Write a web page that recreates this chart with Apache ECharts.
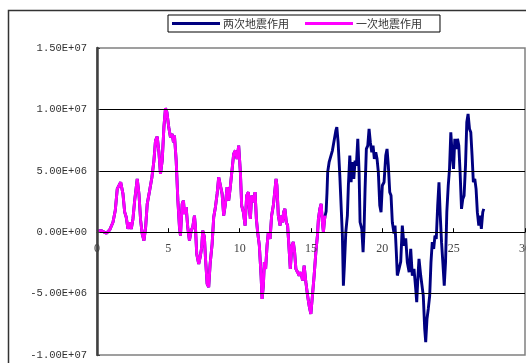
<!DOCTYPE html>
<html>
<head>
<meta charset="utf-8">
<script src="https://cdn.jsdelivr.net/npm/echarts@6/dist/echarts.min.js"></script>
<style>
  html, body { margin: 0; padding: 0; background: #fff; }
  #chart { width: 526px; height: 363px; }
</style>
</head>
<body>
<div id="chart"></div>
<script>
// Time history of base response (values in units of 1e6)
const UNIT = 1e6;

// First earthquake record: time (s)
const timeFirst = [
  0, 0.3, 0.66, 0.89, 1.12, 1.28, 1.42, 1.66, 1.82, 1.94, 2.05, 2.17, 2.29, 2.4, 2.52, 2.64, 2.82, 2.94,
  3.06, 3.17, 3.29, 3.41, 3.52, 3.69, 3.85, 3.99, 4.1, 4.22, 4.34, 4.45, 4.57, 4.69, 4.8, 4.9,
  5.03, 5.15, 5.27, 5.36, 5.43, 5.55, 5.67, 5.78, 5.85, 5.97, 6.06, 6.13, 6.25, 6.36, 6.48, 6.6,
  6.71, 6.83, 6.9, 6.99, 7.13, 7.23, 7.34, 7.41, 7.53, 7.6, 7.72, 7.83, 7.93, 8.07, 8.18, 8.3,
  8.42, 8.53, 8.65, 8.77, 8.88, 9.0, 9.12, 9.23, 9.33, 9.44, 9.58, 9.7, 9.82, 9.93, 10.05, 10.14,
  10.26, 10.38, 10.49, 10.61, 10.68, 10.75, 10.84, 10.96, 11.08, 11.17, 11.26, 11.38, 11.5, 11.57,
  11.66, 11.73, 11.82, 11.92, 12.01, 12.13, 12.24, 12.36, 12.48, 12.55, 12.61, 12.71, 12.83, 12.9,
  13.01, 13.08, 13.17, 13.27, 13.36, 13.45, 13.55, 13.66, 13.76, 13.85, 13.94, 14.06, 14.17, 14.29,
  14.41, 14.52, 14.64, 14.76, 14.87, 14.99, 15.1, 15.22, 15.34, 15.45, 15.52, 15.62, 15.71, 15.8,
  15.87, 15.94, 15.99
];
// First earthquake record: response (x1e6)
const valueFirst = [
  0.08, 0.13, -0.08, 0.19, 0.81, 1.76, 3.53, 4.07, 3.12, 1.63, 1.22, 0.27, 0.81, 0.27, 1.08, 2.57, 4.34, 3.12,
  0.94, -0.14, -0.68, 0.41, 2.3, 3.39, 4.48, 5.83, 7.46, 7.79, 6.51, 4.75, 5.83, 8.55, 10.1, 9.77,
  8.55, 7.74, 8.0, 7.33, 7.87, 5.83, 2.57, 0.41, -0.28, 2.3, 2.57, 1.49, 2.04, 0.41, -0.68, 0.13,
  0.41, 1.35, 0.41, -1.77, -2.58, -2.04, -1.22, 0.13, -0.41, -2.04, -4.21, -4.48, -2.58, -0.95, 1.22, 2.04,
  3.12, 4.48, 4.61, 3.12, 1.35, 2.3, 3.66, 2.57, 3.53, 3.66, 6.38, 6.65, 5.97, 7.05, 4.89, 2.17,
  1.63, 0.54, 2.98, 3.26, 1.9, 1.08, 2.98, 2.44, 3.26, 1.08, 0, -1.09, -3.53, -5.43,
  -4.35, -2.44, -2.99, -1.09, 0, -0.55, 1.35, 2.17, 3.53, 4.34, 3.8, 1.35, 0.54, 1.35,
  0.81, 1.63, 1.9, 0.81, 0.54, -1.09, -2.99, -1.09, -0.8, -1.63, -2.99, -3.26, -3.53, -3.26,
  -3.94, -2.72, -4.07, -5.16, -5.98, -6.65, -5.16, -3.53, -1.63, -0.28, 1.08, 1.9, 2.3, 0.81,
  0, 0.94, 1.35
];

// Second earthquake record (continues after the first): time (s)
const timeSecond = [
  16.06, 16.12, 16.17, 16.27, 16.39, 16.5, 16.62, 16.74, 16.81, 16.9, 17.02, 17.13, 17.2, 17.27,
  17.34, 17.44, 17.55, 17.62, 17.72, 17.81, 17.9, 18.0, 18.09, 18.18, 18.28, 18.37, 18.44, 18.56,
  18.65, 18.72, 18.79, 18.88, 18.98, 19.07, 19.16, 19.26, 19.35, 19.44, 19.54, 19.63, 19.72, 19.82,
  19.91, 20.0, 20.12, 20.24, 20.33, 20.42, 20.52, 20.61, 20.7, 20.82, 20.89, 20.98, 21.05, 21.17,
  21.29, 21.4, 21.52, 21.64, 21.75, 21.88, 21.99, 22.1, 22.22, 22.34, 22.41, 22.5, 22.57, 22.69,
  22.8, 22.87, 22.97, 23.04, 23.13, 23.22, 23.32, 23.41, 23.5, 23.6, 23.69, 23.78, 23.88, 23.97,
  24.06, 24.15, 24.24, 24.34, 24.43, 24.52, 24.62, 24.71, 24.8, 24.9, 24.99, 25.08, 25.17, 25.27,
  25.36, 25.45, 25.55, 25.64, 25.73, 25.83, 25.92, 26.01, 26.11, 26.2, 26.29, 26.38, 26.48, 26.57,
  26.66, 26.76, 26.85, 26.94, 27.04, 27.11
];
// Second earthquake record: response (x1e6)
const valueSecond = [
  1.7, 3.2, 4.9, 5.7, 5.83, 6.65, 6.51, 8.27, 8.55, 7.33, 4.61, 1.63, -0.28, -4.35,
  -2.72, 0, 1.35, 3.8, 6.24, 4.07, 5.7, 4.34, 5.83, 5.42, 7.6, 4.89, 0.81, 0.27,
  -1.63, 0.27, 3.53, 6.78, 7.05, 8.41, 7.33, 6.51, 7.05, 5.97, 6.51, 5.97, 4.89, 2.17,
  1.63, 3.8, 4.07, 6.24, 6.78, 5.42, 3.26, 2.98, 0.81, -0.1, 0.54, -1.63, -3.53, -2.99,
  -2.4, 0.54, -1.09, -0.5, -2.44, -3.26, -1.36, -3.53, -2.99, -4.62, -5.7, -3.53, -2.17, -3.53,
  -3.53, -5.16, -7.87, -8.96, -7.06, -6.25, -5.16, -2.44, -0.81, -1.36, -0.28, -0.55, 2.17, 4.07,
  1.35, -0.81, -2.44, -4.35, -2.44, 1.63, 3.8, 5.16, 8.14, 6.24, 5.16, 7.6, 6.78, 7.6,
  7.05, 4.89, 1.9, 2.71, 2.98, 5.42, 8.96, 9.63, 8.41, 8.14, 6.24, 4.07, 4.34, 3.53,
  1.63, 0.54, 1.35, 0.27, 1.63, 1.9
];

// Axis ranges and tick spacing
const xTicks = { min: 0, max: 30, interval: 5 };
const yTicks = { min: -1e7, max: 1.5e7, interval: 5e6 };

const seriesNames = ['两次地震作用', '一次地震作用'];
const seriesColors = ['#000080', '#ff00ff'];

function pairs(ts, vs) {
  return ts.map((t, i) => [t, vs[i] * UNIT]);
}
const firstData = pairs(timeFirst, valueFirst);
const bothData = firstData.concat(pairs(timeSecond, valueSecond));

function sci(v) {
  const neg = v < 0;
  const a = Math.abs(v);
  const e = a === 0 ? 0 : Math.floor(Math.log10(a) + 1e-9);
  const m = a === 0 ? 0 : a / Math.pow(10, e);
  const es = (e < 0 ? '-' : '+') + String(Math.abs(e)).padStart(2, '0');
  return (neg ? '-' : '') + m.toFixed(2) + 'E' + es;
}

// Plot box in pixels; the time axis sits on the zero level of the value axis
const GRID = { left: 97, top: 48, right: 1, bottom: 8 };
const plotHeight = 363 - GRID.top - GRID.bottom;
const zeroFromBottom = plotHeight * (0 - yTicks.min) / (yTicks.max - yTicks.min);

const chart = echarts.init(document.getElementById('chart'), null, { renderer: 'canvas' });
chart.setOption({
  animation: false,
  backgroundColor: '#ffffff',
  graphic: [{
    type: 'rect',
    shape: { x: 8.5, y: 10.5, width: 540, height: 380 },
    style: { fill: null, stroke: '#333333', lineWidth: 1.5 },
    silent: true,
    z: -1
  }],
  legend: {
    left: 168,
    top: 15,
    orient: 'horizontal',
    data: seriesNames.map((n, i) => ({ name: n, icon: 'rect', itemStyle: { color: seriesColors[i] } })),
    itemWidth: 48,
    itemHeight: 3,
    itemGap: 16,
    padding: [3, 18, 3, 4],
    borderColor: '#000000',
    borderWidth: 1,
    backgroundColor: '#ffffff',
    textStyle: {
      fontFamily: 'Noto Sans CJK SC',
      fontSize: 11,
      lineHeight: 11,
      color: '#333333',
      padding: [0, 0, 0, -2]
    }
  },
  grid: {
    left: GRID.left,
    top: GRID.top,
    right: GRID.right,
    bottom: GRID.bottom,
    outerBoundsMode: 'none',
    containLabel: false,
    show: true,
    borderColor: '#808080',
    borderWidth: 1.5,
    backgroundColor: '#ffffff'
  },
  xAxis: {
    type: 'value',
    position: 'bottom',
    offset: -zeroFromBottom,
    min: xTicks.min,
    max: xTicks.max,
    interval: xTicks.interval,
    axisLine: { onZero: false, lineStyle: { color: '#000000', width: 1 } },
    axisTick: { show: true, inside: true, length: 4, lineStyle: { color: '#000000' } },
    axisLabel: {
      fontFamily: 'Liberation Serif',
      fontSize: 12,
      color: '#444444',
      margin: 11,
      showMinLabel: true,
      showMaxLabel: true
    },
    splitLine: { show: false },
    z: 4
  },
  yAxis: {
    type: 'value',
    min: yTicks.min,
    max: yTicks.max,
    interval: yTicks.interval,
    axisLine: { show: true, onZero: false, lineStyle: { color: '#404040', width: 2.5 } },
    axisTick: { show: true, inside: true, length: 3, lineStyle: { color: '#404040' } },
    axisLabel: {
      fontFamily: 'Liberation Mono',
      fontSize: 10.5,
      color: '#333333',
      margin: 10,
      formatter: sci
    },
    splitLine: {
      show: true,
      showMinLine: false,
      showMaxLine: false,
      lineStyle: { color: '#000000', width: 1 }
    },
    z: 5
  },
  series: [
    {
      name: seriesNames[0],
      type: 'line',
      data: bothData,
      symbol: 'none',
      showSymbol: false,
      lineStyle: { color: seriesColors[0], width: 2.9 },
      itemStyle: { color: seriesColors[0] },
      z: 2
    },
    {
      name: seriesNames[1],
      type: 'line',
      data: firstData,
      symbol: 'none',
      showSymbol: false,
      lineStyle: { color: seriesColors[1], width: 2.9 },
      itemStyle: { color: seriesColors[1] },
      z: 3
    }
  ]
});
</script>
</body>
</html>
